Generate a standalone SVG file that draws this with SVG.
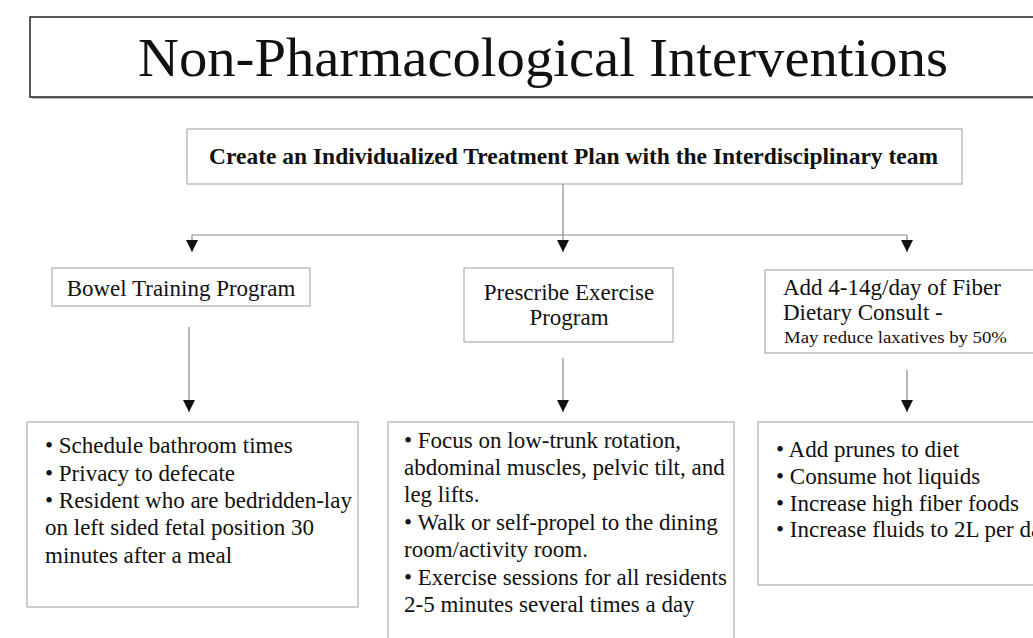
<svg xmlns="http://www.w3.org/2000/svg" width="1033" height="638" viewBox="0 0 1033 638">
<style>
  text { font-family: "Liberation Serif", "Times New Roman", serif; fill: #111; }
  .box { fill: #fff; stroke: #b4b4b4; stroke-width: 1.3; }
  .body { font-size: 23px; }
  .conn { stroke: #8c8c8c; stroke-width: 1.2; fill: none; }
  .arr { marker-end: url(#tri); }
</style>
<defs>
  <marker id="tri" markerUnits="userSpaceOnUse" viewBox="0 0 12 12" refX="12" refY="6" markerWidth="12" markerHeight="12" orient="auto">
    <path d="M0,0 L12,6 L0,12 z" fill="#111"/>
  </marker>
</defs>
<rect width="1033" height="638" fill="#fff"/>

<g id="title">
  <rect x="32" y="19" width="1020" height="80" fill="#999" opacity="0.6"/>
  <rect x="30" y="17" width="1020" height="80" fill="#fff" stroke="#222" stroke-width="1.5"/>
  <text x="138" y="76" font-size="55" textLength="810" lengthAdjust="spacingAndGlyphs">Non-Pharmacological Interventions</text>
</g>

<g id="plan">
  <rect class="box" x="187" y="129" width="775" height="55"/>
  <text x="209" y="164" font-size="23" font-weight="bold" textLength="729" lengthAdjust="spacingAndGlyphs">Create an Individualized Treatment Plan with the Interdisciplinary team</text>
</g>

<g id="bowel">
  <rect class="box" x="52" y="268" width="258" height="38"/>
  <text class="body" x="181" y="296" text-anchor="middle">Bowel Training Program</text>
</g>

<g id="exercise">
  <rect class="box" x="464" y="268" width="209" height="74"/>
  <text class="body" x="569" y="300" text-anchor="middle">Prescribe Exercise</text>
  <text class="body" x="569" y="325" text-anchor="middle">Program</text>
</g>

<g id="fiber">
  <rect class="box" x="765" y="270" width="290" height="83"/>
  <text class="body" x="783" y="295">Add 4-14g/day of Fiber</text>
  <text class="body" x="783" y="320">Dietary Consult -</text>
  <text x="784" y="343" font-size="17" textLength="223" lengthAdjust="spacingAndGlyphs">May reduce laxatives by 50%</text>
</g>

<g id="bowel-details">
  <rect class="box" x="27" y="422" width="331" height="185"/>
  <text class="body" x="45" y="453">• Schedule bathroom times</text>
  <text class="body" x="45" y="481">• Privacy to defecate</text>
  <text class="body" x="45" y="508">• Resident who are bedridden-lay</text>
  <text class="body" x="45" y="535">on left sided fetal position 30</text>
  <text class="body" x="45" y="563">minutes after a meal</text>
</g>

<g id="exercise-details">
  <rect class="box" x="388" y="422" width="346" height="230"/>
  <text class="body" x="404" y="448">• Focus on low-trunk rotation,</text>
  <text class="body" x="404" y="475">abdominal muscles, pelvic tilt, and</text>
  <text class="body" x="404" y="502">leg lifts.</text>
  <text class="body" x="404" y="530">• Walk or self-propel to the dining</text>
  <text class="body" x="404" y="557">room/activity room.</text>
  <text class="body" x="404" y="585">• Exercise sessions for all residents</text>
  <text class="body" x="404" y="612">2-5 minutes several times a day</text>
</g>

<g id="fiber-details">
  <rect class="box" x="758" y="422" width="300" height="163"/>
  <text class="body" x="776" y="457">• Add prunes to diet</text>
  <text class="body" x="776" y="484">• Consume hot liquids</text>
  <text class="body" x="776" y="511">• Increase high fiber foods</text>
  <text class="body" x="776" y="537">• Increase fluids to 2L per day</text>
</g>

<g id="connectors">
  <line class="conn" x1="563" y1="184" x2="563" y2="235"/>
  <line class="conn" x1="192" y1="235" x2="907" y2="235"/>
  <line class="conn arr" x1="192" y1="235" x2="192" y2="252"/>
  <line class="conn arr" x1="563" y1="235" x2="563" y2="252"/>
  <line class="conn arr" x1="907" y1="235" x2="907" y2="252"/>
  <line class="conn arr" x1="189" y1="327" x2="189" y2="412"/>
  <line class="conn arr" x1="563" y1="358" x2="563" y2="412"/>
  <line class="conn arr" x1="907" y1="370" x2="907" y2="412"/>
</g>
</svg>
